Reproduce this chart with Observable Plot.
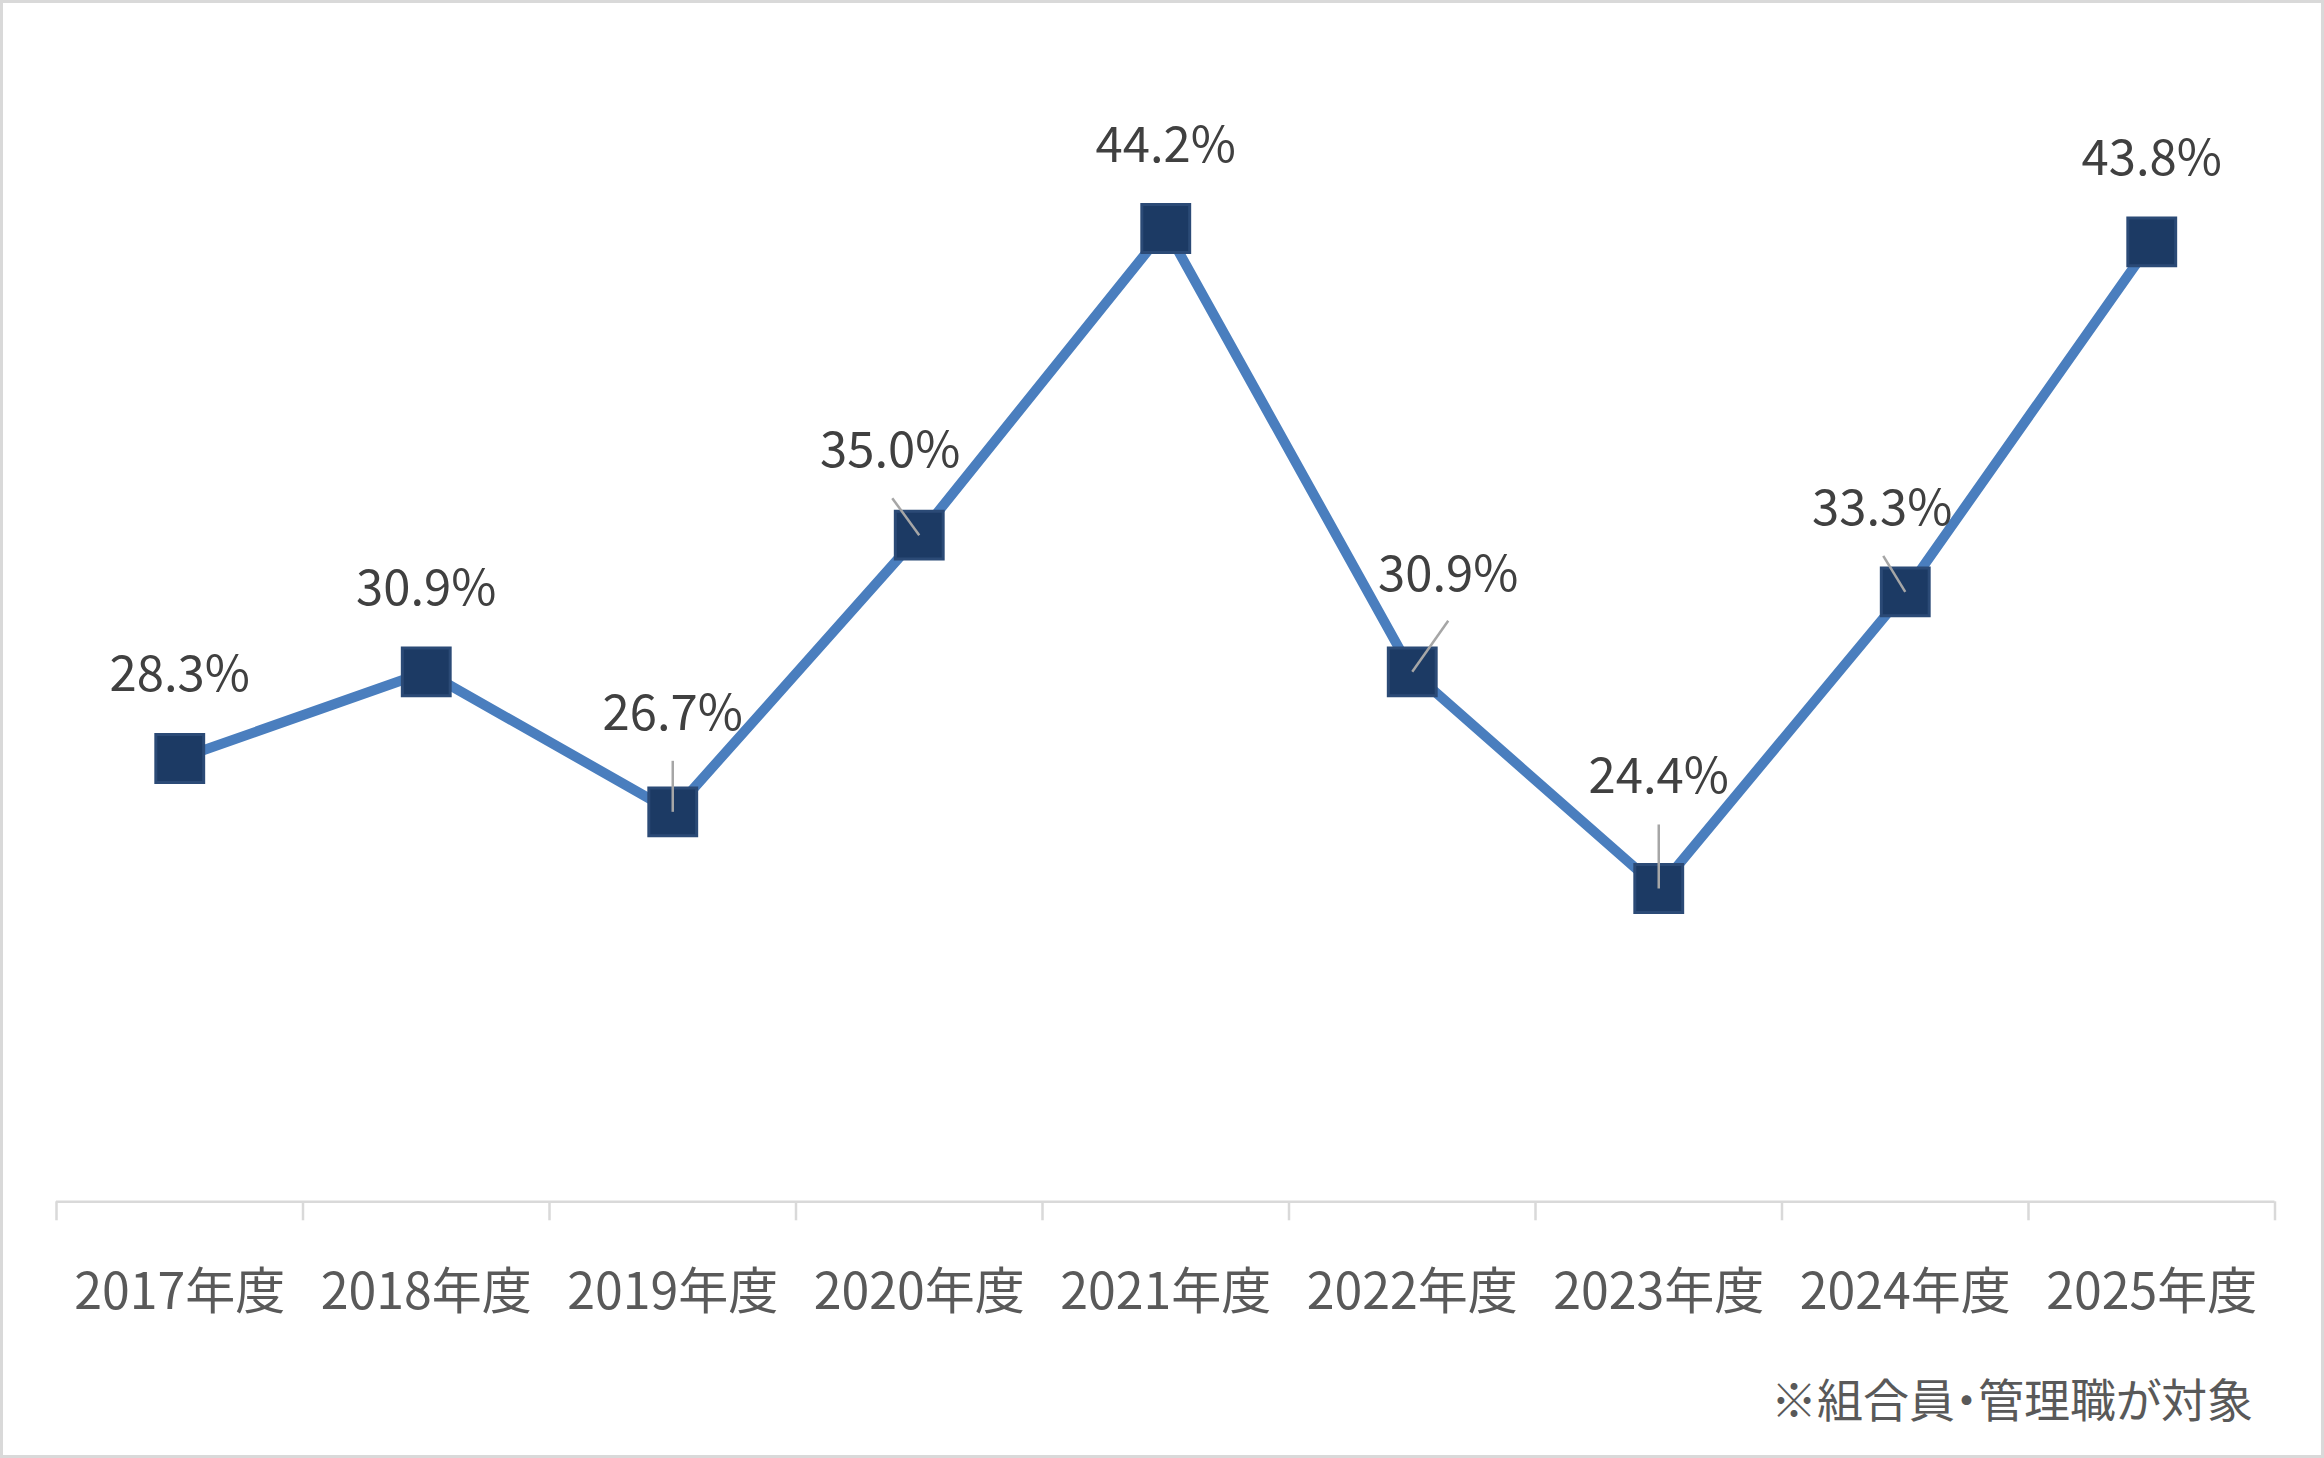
<!DOCTYPE html>
<html>
<head>
<meta charset="utf-8">
<script src="https://cdn.jsdelivr.net/npm/d3@7"></script>
<script src="https://cdn.jsdelivr.net/npm/@observablehq/plot@0.6"></script>
<style>
  html, body { margin: 0; padding: 0; background: #ffffff; }
  body { width: 2324px; height: 1458px; position: relative; overflow: hidden; font-family: "Noto Sans CJK JP", "Noto Sans", sans-serif; }
  #chart { position: absolute; left: 0; top: 0; }
  #note { position: absolute; right: 71px; top: 1374px; font-size: 46px; line-height: 46px; color: #595959; white-space: nowrap; font-feature-settings: "palt"; }
  #frame { position: absolute; left: 0; top: 0; width: 2324px; height: 1458px; box-sizing: border-box; border: 3px solid #d9d9d9; pointer-events: none; }
</style>
</head>
<body>
<div id="chart"></div>
<div id="note">※組合員・管理職が対象</div>
<div id="frame"></div>
<script>
// ---- data ----
const years = ["2017年度", "2018年度", "2019年度", "2020年度", "2021年度", "2022年度", "2023年度", "2024年度", "2025年度"];
const rates = [28.3, 30.9, 26.7, 35.0, 44.2, 30.9, 24.4, 33.3, 43.8];
const yDomain = [15, 50];

// ---- label layout (pixel offsets from each marker) ----
const labelDx = [0, 0, 0, -29, 0, 36, 0, -23, 0];
const labelDy = [-85.5, -85, -100, -86, -85, -99, -113, -85, -85];
const leaderDx = [null, null, 0, -27, null, 36, 0, -22, null];
const leaderDy = [null, null, -51, -37, null, -51, -64, -36, null];

const W = 2324, H = 1340;
const mL = 56, mR = 49.5, mT = 34.7, mB = 138.7;
const xDomain = [0, years.length];

const xs = Plot.scale({x: {domain: xDomain, range: [mL, W - mR]}});
const ys = Plot.scale({y: {domain: yDomain, range: [H - mB, mT]}});

const data = years.map((year, i) => ({year, i, pos: i + 0.5, rate: rates[i]}));
const leaders = data
  .filter(d => leaderDx[d.i] != null)
  .map(d => ({
    x1: d.pos, y1: d.rate,
    x2: xs.invert(xs.apply(d.pos) + leaderDx[d.i]),
    y2: ys.invert(ys.apply(d.rate) + leaderDy[d.i])
  }));

const chart = Plot.plot({
  width: W,
  height: H,
  marginLeft: mL,
  marginRight: mR,
  marginTop: mT,
  marginBottom: mB,
  style: {fontFamily: "'Noto Sans CJK JP', 'Noto Sans', sans-serif", background: "transparent", overflow: "visible"},
  x: {domain: xDomain},
  y: {domain: yDomain, axis: null},
  marks: [
    Plot.ruleY([yDomain[0]], {stroke: "#d9d9d9", strokeWidth: 2.5}),
    Plot.axisX(d3.range(years.length + 1), {tickSize: 19, tickFormat: () => "", stroke: "#d9d9d9", strokeWidth: 2.5}),
    Plot.axisX(data.map(d => d.pos), {tickSize: 0, tickPadding: 72, tickFormat: p => years[Math.floor(p)], fill: "#595959", fontSize: 50}),
    Plot.line(data, {x: "pos", y: "rate", stroke: "#4a7ebe", strokeWidth: 10, strokeLinejoin: "round"}),
    Plot.dot(data, {x: "pos", y: "rate", symbol: "square", r: 27, fill: "#1c3a64", stroke: "#2b4a76", strokeWidth: 3}),
    Plot.link(leaders, {x1: "x1", y1: "y1", x2: "x2", y2: "y2", stroke: "#a6a6a6", strokeWidth: 2.5}),
    ...data.map(d => Plot.text([d], {
      x: "pos", y: "rate",
      text: e => e.rate.toFixed(1) + "%",
      dx: labelDx[d.i], dy: labelDy[d.i] + 2.3,
      fontSize: 49, fill: "#404040"
    }))
  ]
});
document.getElementById("chart").appendChild(chart);
</script>
</body>
</html>
